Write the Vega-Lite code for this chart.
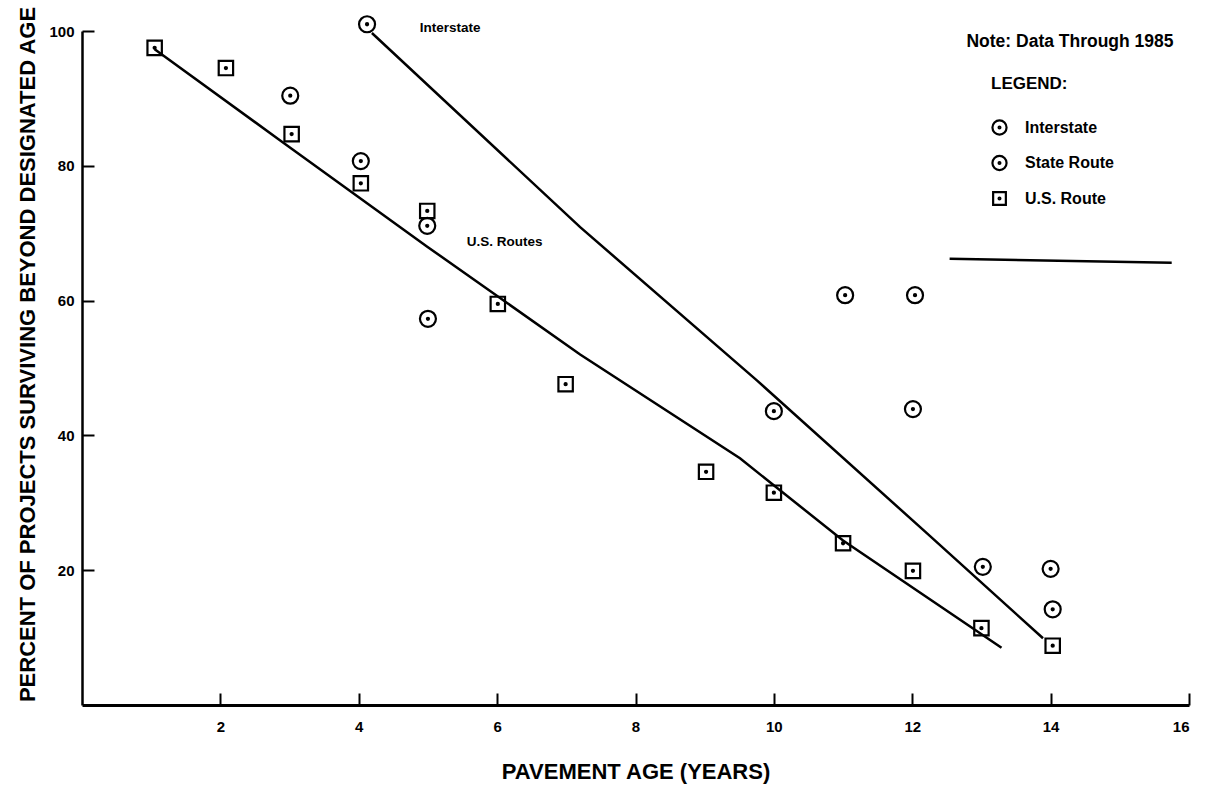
{
  "$schema": "https://vega.github.io/schema/vega-lite/v6.json",
  "width": 1107,
  "height": 674,
  "autosize": "none",
  "padding": {"left": 82, "top": 31, "right": 18, "bottom": 82},
  "background": "white",
  "config": {
    "view": {"stroke": null},
    "font": "Liberation Sans",
    "axis": {
      "grid": false,
      "domainColor": "black",
      "tickColor": "black",
      "labelColor": "black",
      "titleColor": "black",
      "labelFont": "Liberation Sans",
      "titleFont": "Liberation Sans",
      "labelFontWeight": "bold",
      "titleFontWeight": "bold"
    }
  },
  "datasets": {
    "points": [
      {"age": 4.12, "pct": 101.0, "type": "Interstate"},
      {"age": 10.0, "pct": 43.6, "type": "Interstate"},
      {"age": 13.02, "pct": 20.5, "type": "Interstate"},
      {"age": 14.03, "pct": 14.2, "type": "Interstate"},
      {"age": 3.01, "pct": 90.4, "type": "State Route"},
      {"age": 4.03, "pct": 80.7, "type": "State Route"},
      {"age": 4.99, "pct": 71.1, "type": "State Route"},
      {"age": 5.0, "pct": 57.3, "type": "State Route"},
      {"age": 11.03, "pct": 60.8, "type": "State Route"},
      {"age": 12.04, "pct": 60.8, "type": "State Route"},
      {"age": 12.01, "pct": 43.9, "type": "State Route"},
      {"age": 14.0, "pct": 20.2, "type": "State Route"},
      {"age": 1.05, "pct": 97.5, "type": "U.S. Route"},
      {"age": 2.08, "pct": 94.5, "type": "U.S. Route"},
      {"age": 3.03, "pct": 84.7, "type": "U.S. Route"},
      {"age": 4.03, "pct": 77.4, "type": "U.S. Route"},
      {"age": 4.99, "pct": 73.3, "type": "U.S. Route"},
      {"age": 6.01, "pct": 59.5, "type": "U.S. Route"},
      {"age": 6.99, "pct": 47.6, "type": "U.S. Route"},
      {"age": 9.02, "pct": 34.6, "type": "U.S. Route"},
      {"age": 10.0, "pct": 31.5, "type": "U.S. Route"},
      {"age": 11.0, "pct": 24.0, "type": "U.S. Route"},
      {"age": 12.01, "pct": 19.9, "type": "U.S. Route"},
      {"age": 13.0, "pct": 11.4, "type": "U.S. Route"},
      {"age": 14.03, "pct": 8.8, "type": "U.S. Route"}
    ],
    "fits": [
      {"line": "Interstate", "age": 4.19, "pct": 99.7},
      {"line": "Interstate", "age": 7.2, "pct": 70.9},
      {"line": "Interstate", "age": 9.75, "pct": 48.2},
      {"line": "Interstate", "age": 12.21, "pct": 25.5},
      {"line": "Interstate", "age": 13.89, "pct": 9.9},
      {"line": "U.S. Routes", "age": 1.05, "pct": 97.3},
      {"line": "U.S. Routes", "age": 2.86, "pct": 83.8},
      {"line": "U.S. Routes", "age": 4.99, "pct": 68.0},
      {"line": "U.S. Routes", "age": 7.2, "pct": 52.0},
      {"line": "U.S. Routes", "age": 9.51, "pct": 36.6},
      {"line": "U.S. Routes", "age": 11.0, "pct": 24.4},
      {"line": "U.S. Routes", "age": 13.29, "pct": 8.5}
    ],
    "linelabels": [
      {"label": "Interstate", "age": 4.88, "pct": 100.4},
      {"label": "U.S. Routes", "age": 5.56, "pct": 68.7}
    ],
    "note": [
      {"label": "Note: Data Through 1985", "age": 14.28, "pct": 98.4}
    ],
    "rule": [
      {"age": 12.54, "age2": 15.75, "pct": 66.2, "pct2": 65.6}
    ]
  },
  "layer": [
    {
      "data": {"name": "fits"},
      "mark": {"type": "line", "color": "black", "strokeWidth": 2.5},
      "encoding": {
        "x": {
          "field": "age", "type": "quantitative",
          "scale": {"domain": [0, 16], "nice": false, "zero": false},
          "axis": {
            "title": "PAVEMENT AGE (YEARS)",
            "values": [2, 4, 6, 8, 10, 12, 14, 16],
            "format": "d",
            "domainWidth": 3,
            "tickSize": -12,
            "tickWidth": 2,
            "labelFontSize": 15,
            "labelPadding": 26,
            "titleFontSize": 22,
            "titlePadding": 27
          }
        },
        "y": {
          "field": "pct", "type": "quantitative",
          "scale": {"domain": [0, 100], "nice": false},
          "axis": {
            "title": "PERCENT OF PROJECTS SURVIVING BEYOND DESIGNATED AGE",
            "values": [20, 40, 60, 80, 100],
            "format": "d",
            "domainWidth": 2.5,
            "tickSize": -12,
            "tickWidth": 2,
            "labelFontSize": 15,
            "labelPadding": 20,
            "titleFontSize": 22,
            "titlePadding": 9,
            "titleY": 323
          }
        },
        "detail": {"field": "line"},
        "order": {"field": "age", "type": "quantitative"}
      }
    },
    {
      "data": {"name": "points"},
      "mark": {"type": "point", "filled": false, "color": "black", "strokeWidth": 2.2, "size": 256, "opacity": 1},
      "encoding": {
        "x": {"field": "age", "type": "quantitative", "title": "PAVEMENT AGE (YEARS)"},
        "y": {"field": "pct", "type": "quantitative", "title": "PERCENT OF PROJECTS SURVIVING BEYOND DESIGNATED AGE"},
        "shape": {
          "field": "type", "type": "nominal",
          "scale": {
            "domain": ["Interstate", "State Route", "U.S. Route"],
            "range": [
              "M1,0A1,1,0,1,1,-1,0A1,1,0,1,1,1,0Z M0.13,0A0.13,0.13,0,1,1,-0.13,0A0.13,0.13,0,1,1,0.13,0Z",
              "M1,0A1,1,0,1,1,-1,0A1,1,0,1,1,1,0Z M0.13,0A0.13,0.13,0,1,1,-0.13,0A0.13,0.13,0,1,1,0.13,0Z",
              "M-0.9,-0.9H0.9V0.9H-0.9Z M0.13,0A0.13,0.13,0,1,1,-0.13,0A0.13,0.13,0,1,1,0.13,0Z"
            ]
          },
          "legend": {
            "title": "LEGEND:",
            "orient": "none",
            "legendX": 909,
            "legendY": 45,
            "titleFont": "Liberation Sans",
            "titleFontSize": 17,
            "titleFontWeight": "bold",
            "titleColor": "black",
            "titlePadding": 26,
            "labelFont": "Liberation Sans",
            "labelFontSize": 16,
            "labelFontWeight": "bold",
            "labelColor": "black",
            "labelOffset": 17,
            "symbolSize": 200,
            "symbolStrokeWidth": 2.2,
            "symbolStrokeColor": "black",
            "symbolOpacity": 1,
            "rowPadding": 12.5
          }
        }
      }
    },
    {
      "data": {"name": "linelabels"},
      "mark": {"type": "text", "align": "left", "baseline": "middle", "fontSize": 13.5, "fontWeight": "bold", "color": "black", "font": "Liberation Sans"},
      "encoding": {
        "x": {"field": "age", "type": "quantitative", "title": "PAVEMENT AGE (YEARS)"},
        "y": {"field": "pct", "type": "quantitative", "title": "PERCENT OF PROJECTS SURVIVING BEYOND DESIGNATED AGE"},
        "text": {"field": "label"}
      }
    },
    {
      "data": {"name": "note"},
      "mark": {"type": "text", "align": "center", "baseline": "middle", "fontSize": 17.5, "fontWeight": "bold", "color": "black", "font": "Liberation Sans"},
      "encoding": {
        "x": {"field": "age", "type": "quantitative", "title": "PAVEMENT AGE (YEARS)"},
        "y": {"field": "pct", "type": "quantitative", "title": "PERCENT OF PROJECTS SURVIVING BEYOND DESIGNATED AGE"},
        "text": {"field": "label"}
      }
    },
    {
      "data": {"name": "rule"},
      "mark": {"type": "rule", "color": "black", "strokeWidth": 2.5},
      "encoding": {
        "x": {"field": "age", "type": "quantitative", "title": "PAVEMENT AGE (YEARS)"},
        "x2": {"field": "age2"},
        "y": {"field": "pct", "type": "quantitative", "title": "PERCENT OF PROJECTS SURVIVING BEYOND DESIGNATED AGE"},
        "y2": {"field": "pct2"}
      }
    }
  ]
}
